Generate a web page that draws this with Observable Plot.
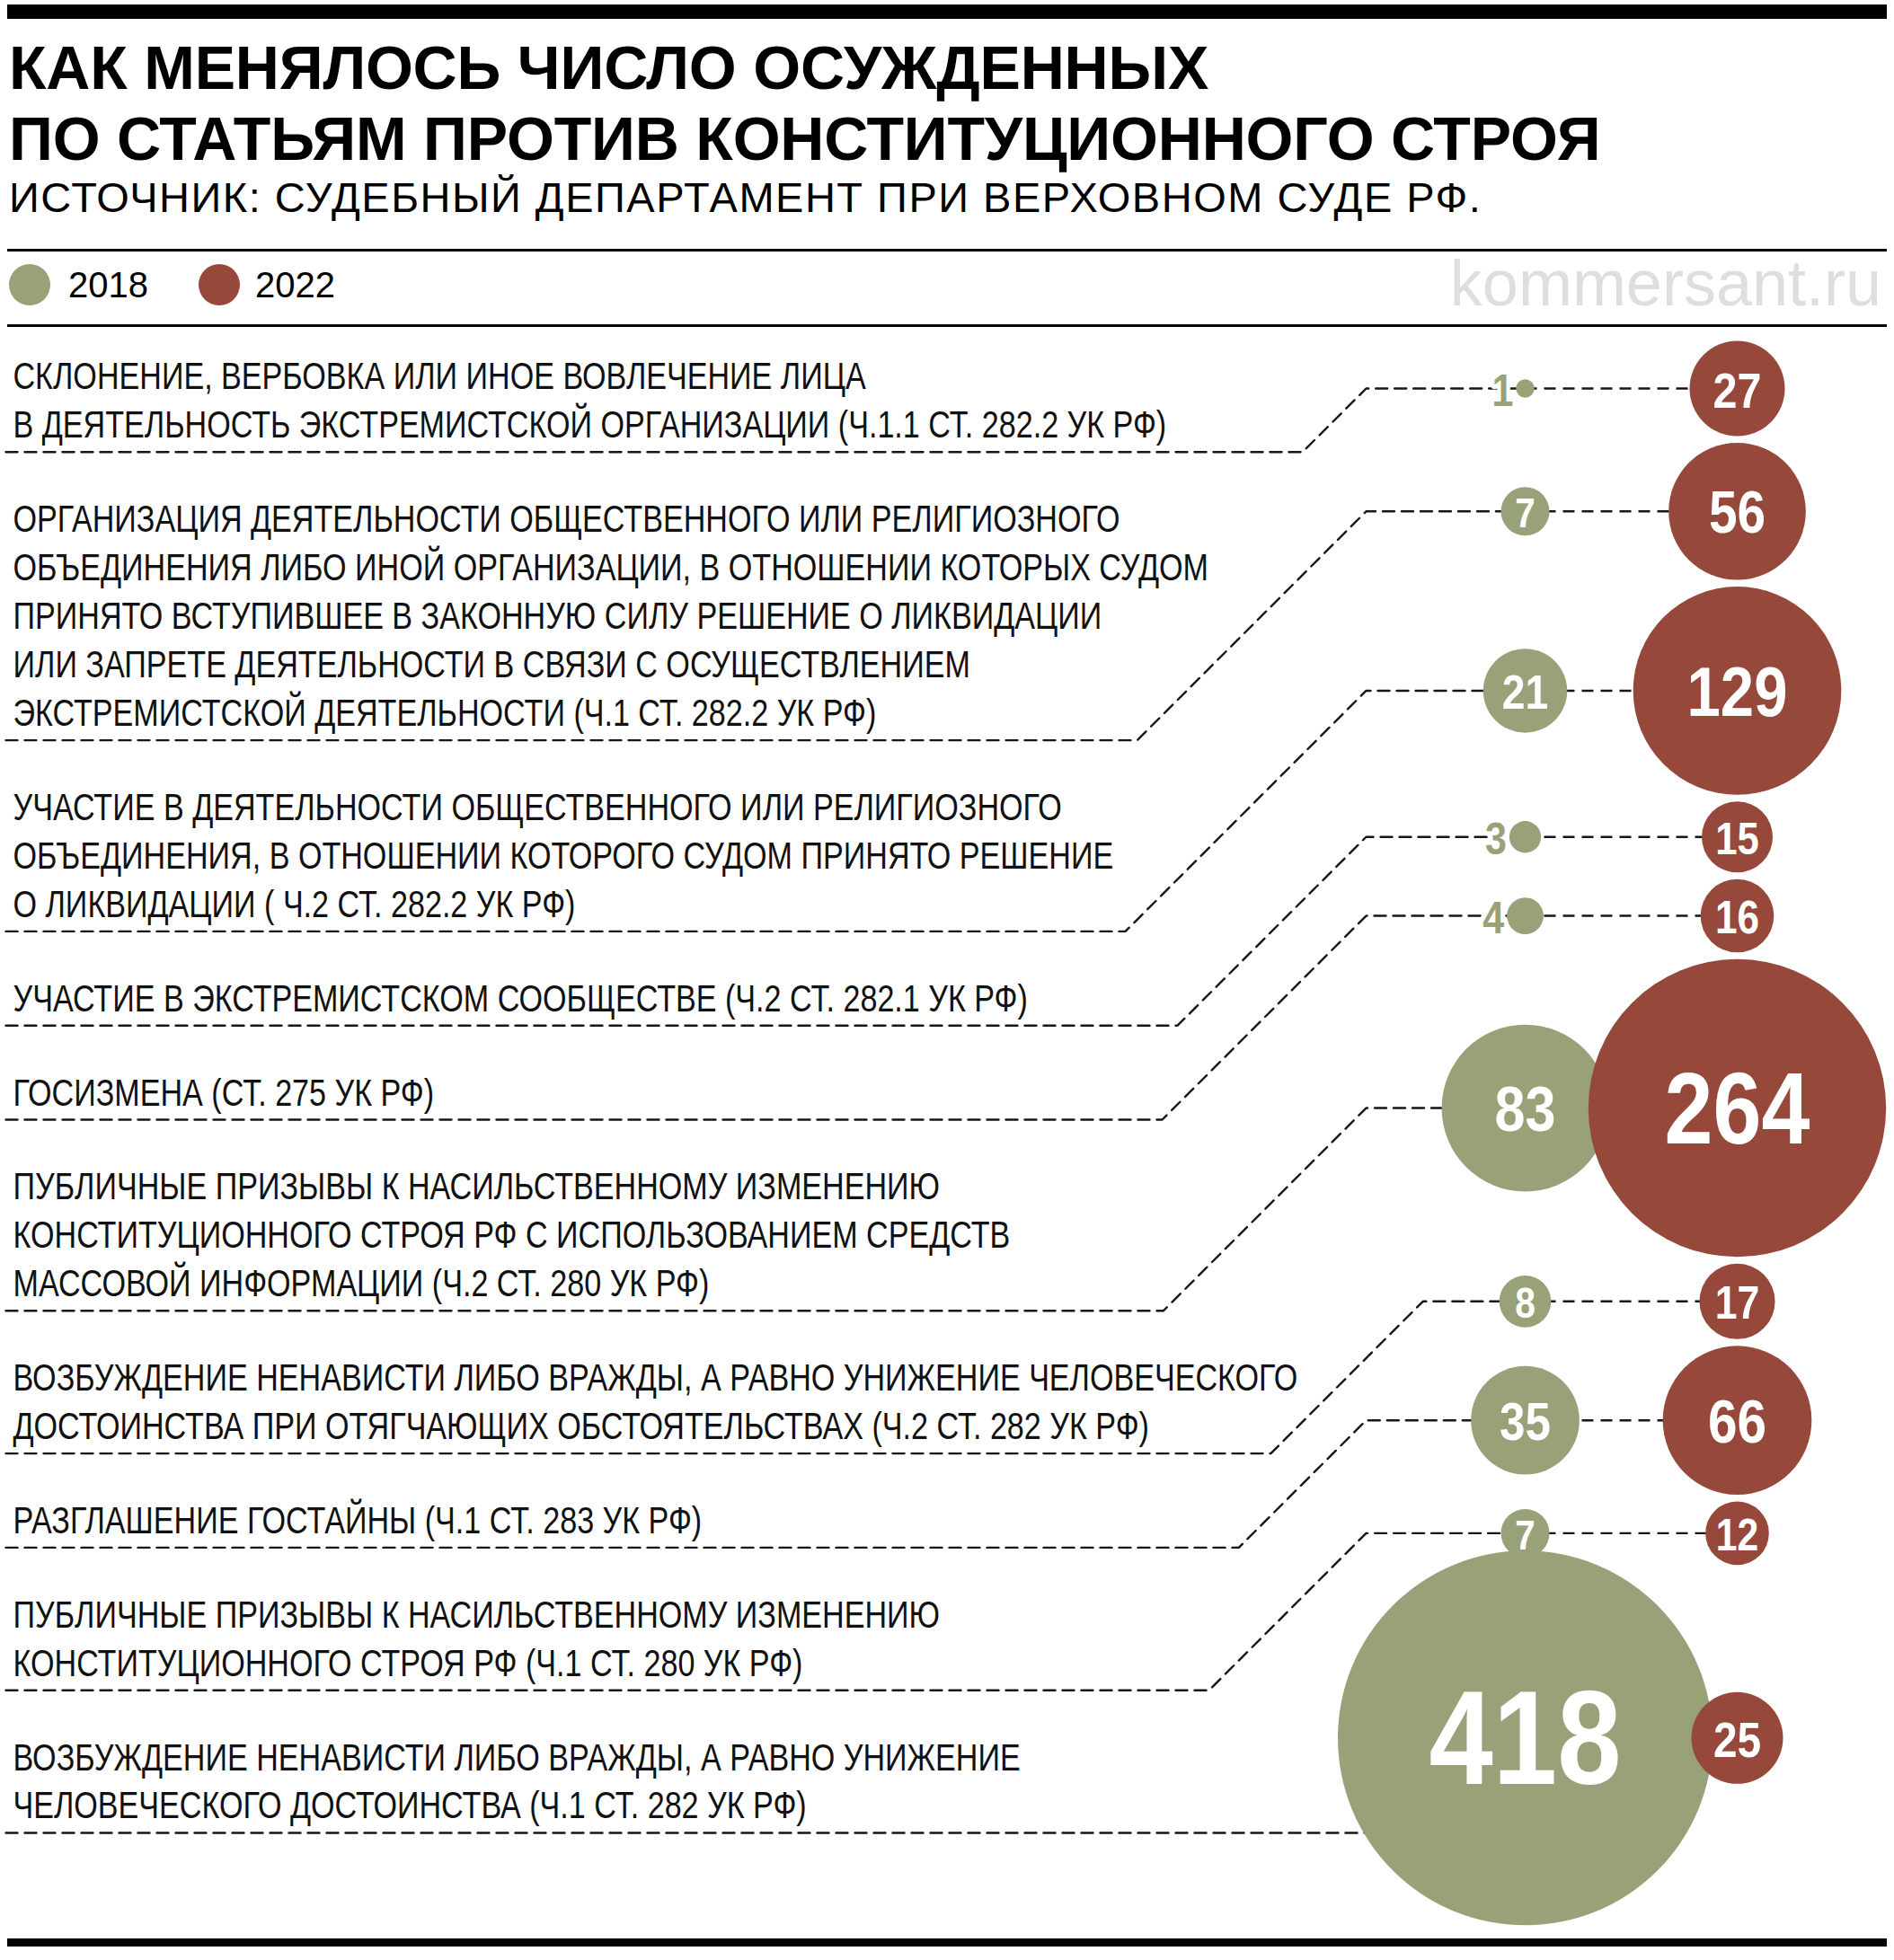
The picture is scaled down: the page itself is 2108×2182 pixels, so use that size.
<!DOCTYPE html>
<html><head><meta charset="utf-8">
<script src="https://cdn.jsdelivr.net/npm/d3@7"></script>
<script src="https://cdn.jsdelivr.net/npm/@observablehq/plot@0.6"></script>
<style>
body{margin:0;background:#fff;}
#page{position:relative;width:2108px;height:2182px;overflow:hidden;font-family:"Liberation Sans",Arial,sans-serif;color:#000;}
.bar{position:absolute;left:8px;width:2092px;background:#000;}
.t{position:absolute;white-space:nowrap;line-height:1;}
.title{left:10px;font-weight:bold;font-size:68px;letter-spacing:-0.2px;}
.sub{left:10px;font-size:47px;letter-spacing:1.5px;}
.leg{font-size:40px;}
.sw{position:absolute;width:46px;height:46px;border-radius:50%;}
.brand{right:14px;font-size:72px;color:#dedede;}
#chart{position:absolute;left:0;top:365px;}
</style></head><body><div id="page">
<div class="bar" style="top:5px;height:16px"></div>
<div class="t title" id="t1" style="top:41px"></div>
<div class="t title" id="t2" style="top:120px"></div>
<div class="t sub" id="sub" style="top:196px"></div>
<div class="bar" style="top:277px;height:3px"></div>
<div class="sw" id="sw0" style="left:10px;top:294px"></div>
<div class="t leg" id="lg0" style="left:76px;top:297px"></div>
<div class="sw" id="sw1" style="left:221px;top:294px"></div>
<div class="t leg" id="lg1" style="left:284px;top:297px"></div>
<div class="t brand" id="brand" style="top:279px"></div>
<div class="bar" style="top:361px;height:3px"></div>
<div id="chart"></div>
<div class="bar" style="top:2158px;height:9px"></div>
</div>
<script>
// ---------- DATA ----------
const titleLines = ["КАК МЕНЯЛОСЬ ЧИСЛО ОСУЖДЕННЫХ", "ПО СТАТЬЯМ ПРОТИВ КОНСТИТУЦИОННОГО СТРОЯ"];
const subtitle = "ИСТОЧНИК: СУДЕБНЫЙ ДЕПАРТАМЕНТ ПРИ ВЕРХОВНОМ СУДЕ РФ.";
const brand = "kommersant.ru";
const years = ["2018", "2022"];
const categories = [
  ["СКЛОНЕНИЕ, ВЕРБОВКА ИЛИ ИНОЕ ВОВЛЕЧЕНИЕ ЛИЦА", "В ДЕЯТЕЛЬНОСТЬ ЭКСТРЕМИСТСКОЙ ОРГАНИЗАЦИИ (Ч.1.1 СТ. 282.2 УК РФ)"],
  ["ОРГАНИЗАЦИЯ ДЕЯТЕЛЬНОСТИ ОБЩЕСТВЕННОГО ИЛИ РЕЛИГИОЗНОГО", "ОБЪЕДИНЕНИЯ ЛИБО ИНОЙ ОРГАНИЗАЦИИ, В ОТНОШЕНИИ КОТОРЫХ СУДОМ", "ПРИНЯТО ВСТУПИВШЕЕ В ЗАКОННУЮ СИЛУ РЕШЕНИЕ О ЛИКВИДАЦИИ", "ИЛИ ЗАПРЕТЕ ДЕЯТЕЛЬНОСТИ В СВЯЗИ С ОСУЩЕСТВЛЕНИЕМ", "ЭКСТРЕМИСТСКОЙ ДЕЯТЕЛЬНОСТИ (Ч.1 СТ. 282.2 УК РФ)"],
  ["УЧАСТИЕ В ДЕЯТЕЛЬНОСТИ ОБЩЕСТВЕННОГО ИЛИ РЕЛИГИОЗНОГО", "ОБЪЕДИНЕНИЯ, В ОТНОШЕНИИ КОТОРОГО СУДОМ ПРИНЯТО РЕШЕНИЕ", "О ЛИКВИДАЦИИ ( Ч.2 СТ. 282.2 УК РФ)"],
  ["УЧАСТИЕ В ЭКСТРЕМИСТСКОМ СООБЩЕСТВЕ (Ч.2 СТ. 282.1 УК РФ)"],
  ["ГОСИЗМЕНА (СТ. 275 УК РФ)"],
  ["ПУБЛИЧНЫЕ ПРИЗЫВЫ К НАСИЛЬСТВЕННОМУ ИЗМЕНЕНИЮ", "КОНСТИТУЦИОННОГО СТРОЯ РФ С ИСПОЛЬЗОВАНИЕМ СРЕДСТВ", "МАССОВОЙ ИНФОРМАЦИИ (Ч.2 СТ. 280 УК РФ)"],
  ["ВОЗБУЖДЕНИЕ НЕНАВИСТИ ЛИБО ВРАЖДЫ, А РАВНО УНИЖЕНИЕ ЧЕЛОВЕЧЕСКОГО", "ДОСТОИНСТВА ПРИ ОТЯГЧАЮЩИХ ОБСТОЯТЕЛЬСТВАХ (Ч.2 СТ. 282 УК РФ)"],
  ["РАЗГЛАШЕНИЕ ГОСТАЙНЫ (Ч.1 СТ. 283 УК РФ)"],
  ["ПУБЛИЧНЫЕ ПРИЗЫВЫ К НАСИЛЬСТВЕННОМУ ИЗМЕНЕНИЮ", "КОНСТИТУЦИОННОГО СТРОЯ РФ (Ч.1 СТ. 280 УК РФ)"],
  ["ВОЗБУЖДЕНИЕ НЕНАВИСТИ ЛИБО ВРАЖДЫ, А РАВНО УНИЖЕНИЕ", "ЧЕЛОВЕЧЕСКОГО ДОСТОИНСТВА (Ч.1 СТ. 282 УК РФ)"]
];
const values2018 = [1, 7, 21, 3, 4, 83, 8, 35, 7, 418];
const values2022 = [27, 56, 129, 15, 16, 264, 17, 66, 12, 25];

// ---------- STYLE / LAYOUT ----------
const colors = {"2018": "#99a178", "2022": "#96483b"};
const W = 2108, H = 1793;
const family = "'Liberation Sans', Arial, sans-serif";
const labelFont = 42, lineStep = 54, blockStep = 104.8, sepStart = -21, baseAboveSep = 16;
const labelSX = 0.812, numSX = 0.86;
const sepX0 = 6, labelX = 14, kneeMin = 1520, clear = 40, rowGap = 7.5;
const rMax = 208.5;
const dash = "13,8", lineColor = "#161616", lineW = 2.4;

// header text
document.getElementById("t1").textContent = titleLines[0];
document.getElementById("t2").textContent = titleLines[1];
document.getElementById("sub").textContent = subtitle;
document.getElementById("brand").textContent = brand;
years.forEach((yr, k) => {
  document.getElementById("sw" + k).style.background = colors[yr];
  document.getElementById("lg" + k).textContent = yr;
});

// scales
const vmax = d3.max([...values2018, ...values2022]);
const rScale = Plot.scale({r: {type: "sqrt", domain: [0, vmax], range: [0, rMax]}});
const xYear = d3.scalePoint().domain(years).range([1697, 1933]);
const r18 = values2018.map(v => rScale.apply(v));
const r22 = values2022.map(v => rScale.apply(v));

// circle rows packed vertically
const rowY = [];
values2018.forEach((v, i) => {
  if (i === 0) rowY.push(r22[0] + 14);
  else rowY.push(rowY[i - 1] + Math.max(r22[i - 1] + r22[i] + rowGap, r18[i - 1] + r18[i] - rowGap));
});

// label blocks
const ctx = document.createElement("canvas").getContext("2d");
ctx.font = `${labelFont}px ${family}`;
const blocks = [];
const lineInfo = [];
let sepPrev = sepStart;
categories.forEach((lines, i) => {
  const sep = sepPrev + blockStep + (lines.length - 1) * lineStep;
  const base0 = sep - baseAboveSep - (lines.length - 1) * lineStep;
  // Plot puts the first baseline 0.71 line-heights below a top-anchored y
  blocks.push({i, text: lines.join("\n"), top: base0 - 0.71 * lineStep, sep});
  lines.forEach((t, j) => lineInfo.push({b: base0 + j * lineStep, w: labelX + ctx.measureText(t).width * labelSX}));
  sepPrev = sep;
});

// leaders (45° diagonals, kept clear of the label text)
const leaderPts = [];
let cPrev = -Infinity;
blocks.forEach((b, i) => {
  const d = b.sep - rowY[i];
  const cx = xYear("2018");
  if (d < r18[i]) {
    leaderPts.push({id: i, x: sepX0, y: b.sep}, {id: i, x: cx, y: b.sep});
    return;
  }
  let knee = kneeMin;
  lineInfo.forEach(l => {
    if (l.b > rowY[i] && l.b <= b.sep) knee = Math.max(knee, l.w + l.b - rowY[i] + clear);
  });
  if (knee + rowY[i] < cPrev + 40) knee = cPrev + 40 - rowY[i];
  cPrev = knee + rowY[i];
  leaderPts.push({id: i, x: sepX0, y: b.sep}, {id: i, x: knee - d, y: b.sep},
                 {id: i, x: knee, y: rowY[i]}, {id: i, x: cx, y: rowY[i]});
});

const rows = values2018.map((v, i) => ({i, v18: v, v22: values2022[i], y: rowY[i]}));
const fs = d3.scaleLinear().domain([27, 40, 76, 116, 166, 208.5]).range([47, 51, 66, 78, 113, 149]).clamp(true);
const insideMin = 25;
const inside = [], outside = [];
rows.forEach(d => {
  [["2018", d.v18, r18[d.i]], ["2022", d.v22, r22[d.i]]].forEach(([yr, v, r]) => {
    (r >= insideMin ? inside : outside).push({yr, v, r, y: d.y, cx: xYear(yr)});
  });
});

const chart = Plot.plot({
  width: W, height: H, margin: 0,
  x: {type: "linear", domain: [0, W], range: [0, W], axis: null},
  y: {type: "linear", domain: [0, H], range: [0, H], axis: null},
  r: {type: "sqrt", domain: [0, vmax], range: [0, rMax]},
  style: {background: "transparent", fontFamily: family},
  marks: [
    Plot.text(blocks, {x: labelX, y: "top", text: "text", textAnchor: "start", lineAnchor: "top",
      lineHeight: lineStep / labelFont, fontSize: labelFont, fontFamily: family, fill: "#111"}),
    Plot.line(leaderPts, {x: "x", y: "y", z: "id", stroke: lineColor, strokeWidth: lineW, strokeDasharray: dash, curve: "linear"}),
    Plot.link(rows, {x1: () => xYear("2018"), x2: () => xYear("2022"), y1: "y", y2: "y",
      stroke: lineColor, strokeWidth: lineW, strokeDasharray: dash}),
    Plot.dot(rows, {x: () => xYear("2018"), y: "y", r: "v18", fill: colors["2018"], sort: null}),
    Plot.dot(rows, {x: () => xYear("2022"), y: "y", r: "v22", fill: colors["2022"], sort: null}),
    Plot.text(inside, {x: "cx", y: "y", text: d => String(d.v), fill: "white", fontWeight: "bold",
      fontFamily: family, fontSize: d => fs(d.r), dy: 3}),
    Plot.text(outside, {x: d => d.cx - d.r - 3, y: "y", text: d => String(d.v), textAnchor: "end",
      fill: d => colors[d.yr], stroke: "white", strokeWidth: 10, fontWeight: "bold",
      fontFamily: family, fontSize: 50, dy: 3})
  ]
});

// condense the type horizontally (the original uses a condensed grotesque)
const textGroups = chart.querySelectorAll('g[aria-label="text"]');
textGroups.forEach((g, k) => {
  const s = k === 0 ? labelSX : numSX;
  g.querySelectorAll("text").forEach(t => {
    const tr = t.getAttribute("transform");
    if (tr) t.setAttribute("transform", tr + ` scale(${s},1)`);
    else {
      const x = +t.getAttribute("x") || 0, y = +t.getAttribute("y") || 0;
      t.removeAttribute("x"); t.removeAttribute("y");
      t.setAttribute("transform", `translate(${x},${y}) scale(${s},1)`);
    }
  });
});
document.getElementById("chart").appendChild(chart);
</script>
</body></html>
